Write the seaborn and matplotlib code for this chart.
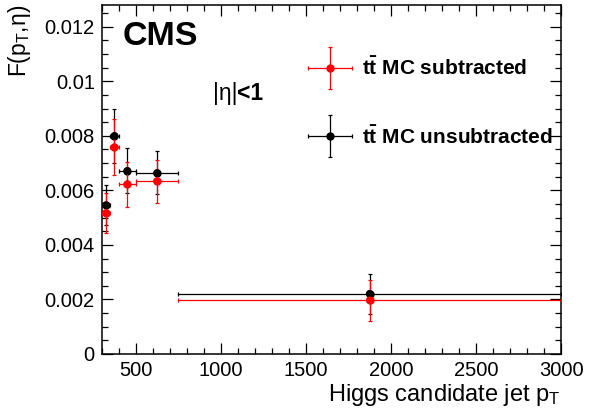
import matplotlib
matplotlib.use('Agg')
import matplotlib.pyplot as plt
import seaborn as sns
import pandas as pd
from matplotlib.ticker import MultipleLocator, FuncFormatter
from matplotlib.legend_handler import HandlerErrorbar

# jet pT bins
bin_lo = [300, 350, 400, 500, 750]
bin_hi = [350, 400, 500, 750, 3000]
pt_center = [325, 375, 450, 625, 1875]

# F(pT, eta) with ttbar MC subtracted / unsubtracted
f_sub = [0.00517, 0.00758, 0.00622, 0.00634, 0.00197]
f_sub_err = [0.00074, 0.00103, 0.00083, 0.00079, 0.00075]
f_unsub = [0.00546, 0.00800, 0.00672, 0.00664, 0.00221]
f_unsub_err = [0.00073, 0.00100, 0.00082, 0.00079, 0.00073]

sns.set_style('ticks')
plt.rcParams['font.family'] = ['Liberation Sans', 'DejaVu Sans']
plt.rcParams['mathtext.fontset'] = 'custom'
plt.rcParams['mathtext.rm'] = 'Liberation Sans'
plt.rcParams['mathtext.it'] = 'Liberation Sans:italic'
plt.rcParams['mathtext.bf'] = 'Liberation Sans:bold'
plt.rcParams['text.color'] = 'black'
plt.rcParams['axes.labelcolor'] = 'black'
plt.rcParams['xtick.color'] = 'black'
plt.rcParams['ytick.color'] = 'black'
plt.rcParams['axes.edgecolor'] = 'black'

df = pd.DataFrame({'pt': pt_center * 2,
                   'F': f_unsub + f_sub,
                   'sample': ['unsub'] * 5 + ['sub'] * 5})

xerr_lo = [c - lo for c, lo in zip(pt_center, bin_lo)]
xerr_hi = [hi - c for c, hi in zip(pt_center, bin_hi)]

fig = plt.figure(figsize=(5.89, 4.12), dpi=100)
ax = fig.add_axes([0.1727, 0.1408, 0.7798, 0.8471])

eb_unsub = ax.errorbar(pt_center, f_unsub, yerr=f_unsub_err, xerr=[xerr_lo, xerr_hi],
                       fmt='o', color='black', markersize=5, ecolor='black',
                       elinewidth=0.9, capsize=1.5, capthick=0.9, zorder=2)
eb_sub = ax.errorbar(pt_center, f_sub, yerr=f_sub_err, xerr=[xerr_lo, xerr_hi],
                     fmt='o', color='red', markersize=5, ecolor='red',
                     elinewidth=0.9, capsize=1.5, capthick=0.9, zorder=3)
sns.scatterplot(data=df, x='pt', y='F', hue='sample',
                palette={'unsub': 'black', 'sub': 'red'}, s=30, edgecolor='none',
                legend=False, ax=ax, zorder=4)

ax.set_xlim(300, 3000)
ax.set_ylim(0, 0.0128)
ax.xaxis.set_major_locator(MultipleLocator(500))
ax.xaxis.set_minor_locator(MultipleLocator(100))
ax.yaxis.set_major_locator(MultipleLocator(0.002))
ax.yaxis.set_minor_locator(MultipleLocator(0.0005))
ax.yaxis.set_major_formatter(FuncFormatter(lambda v, p: '%g' % round(v, 6)))
ax.tick_params(which='both', direction='in', top=True, right=True, labelsize=14.5, pad=5)
ax.tick_params(which='major', length=8, width=0.9)
ax.tick_params(which='minor', length=4, width=0.9)
for sp in ax.spines.values():
    sp.set_linewidth(1.1)

ax.set_xlabel('Higgs candidate jet p$_{\\mathrm{T}}$', fontsize=17, loc='right')
ax.xaxis.set_label_coords(1.0, -0.08)
ax.set_ylabel('F(p$_{\\mathrm{T}}$,η)', fontsize=16.5, loc='top')
ax.yaxis.set_label_coords(-0.15, 1.0)

ax.text(0.046, 0.955, 'CMS', transform=ax.transAxes, fontsize=24.5, fontweight='bold',
        ha='left', va='top')
ax.text(0.242, 0.745, '|η|', transform=ax.transAxes, fontsize=16.5, ha='left', va='center')
ax.text(0.294, 0.745, '<1', transform=ax.transAxes, fontsize=16.5, fontweight='bold',
        ha='left', va='center')

handles = [eb_sub, eb_unsub]
labels = ['$\\mathbf{t\\bar{t}}$ MC subtracted', '$\\mathbf{t\\bar{t}}$ MC unsubtracted']
leg = fig.legend(handles, labels, loc='center left', bbox_to_anchor=(0.522, 0.752),
                 frameon=False, prop={'size': 15, 'weight': 'bold'},
                 handlelength=2.2, handletextpad=0.4, labelspacing=2.2,
                 borderpad=0, borderaxespad=0,
                 handler_map={type(eb_sub): HandlerErrorbar(xerr_size=1.05, yerr_size=1.0)})

fig.savefig('out.png', dpi=100)
